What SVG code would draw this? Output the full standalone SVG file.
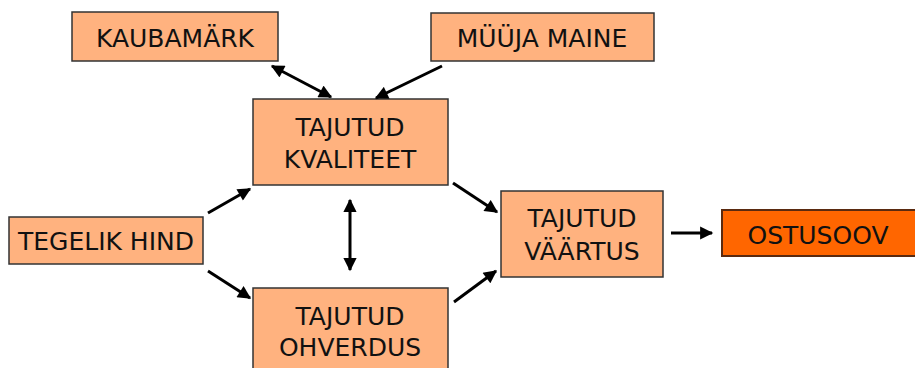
<svg xmlns="http://www.w3.org/2000/svg" width="915" height="368" viewBox="0 0 915 368">
  <defs>
    <style>
      .box { fill: #FFB27F; stroke: #333333; stroke-width: 1.5; }
      .hot { fill: #FF6600; stroke: #5a2a10; stroke-width: 2; }
      .lbl { font-family: "DejaVu Sans", "Open Sans", sans-serif; font-size: 25px; fill: #111111; text-anchor: middle; }
      .con { stroke: #000000; stroke-width: 3; fill: none; }
    </style>
    <marker id="head" viewBox="0 0 10 10" refX="9" refY="5" markerWidth="5" markerHeight="4.4" orient="auto-start-reverse" markerUnits="strokeWidth">
      <path d="M0,0 L10,5 L0,10 z" fill="#000000"/>
    </marker>
  </defs>
  <rect width="915" height="368" fill="#ffffff"/>

  <g id="kaubamark">
    <rect class="box" x="72" y="12" width="206" height="49"/>
    <text class="lbl" x="175" y="47">KAUBAMÄRK</text>
  </g>
  <g id="myyja-maine">
    <rect class="box" x="431" y="13" width="223" height="48"/>
    <text class="lbl" x="542" y="47">MÜÜJA MAINE</text>
  </g>
  <g id="kvaliteet">
    <rect class="box" x="253" y="99" width="195" height="86"/>
    <text class="lbl" x="350" y="136">TAJUTUD</text>
    <text class="lbl" x="350" y="168">KVALITEET</text>
  </g>
  <g id="tegelik-hind">
    <rect class="box" x="9" y="217" width="194" height="47"/>
    <text class="lbl" x="106" y="250">TEGELIK HIND</text>
  </g>
  <g id="ohverdus">
    <rect class="box" x="253" y="288" width="195" height="90"/>
    <text class="lbl" x="350" y="325">TAJUTUD</text>
    <text class="lbl" x="350" y="356">OHVERDUS</text>
  </g>
  <g id="vaartus">
    <rect class="box" x="501" y="191" width="162" height="86"/>
    <text class="lbl" x="582" y="227">TAJUTUD</text>
    <text class="lbl" x="582" y="260">VÄÄRTUS</text>
  </g>
  <g id="ostusoov">
    <rect class="hot" x="722" y="210" width="200" height="46"/>
    <text class="lbl" x="818" y="244">OSTUSOOV</text>
  </g>

  <g id="connectors">
    <line class="con" x1="272" y1="66" x2="331" y2="97" marker-start="url(#head)" marker-end="url(#head)"/>
    <line class="con" x1="442" y1="66" x2="376" y2="98" marker-end="url(#head)"/>
    <line class="con" x1="208" y1="213" x2="250" y2="189" marker-end="url(#head)"/>
    <line class="con" x1="208" y1="271" x2="250" y2="298" marker-end="url(#head)"/>
    <line class="con" x1="350" y1="200" x2="350" y2="270" marker-start="url(#head)" marker-end="url(#head)"/>
    <line class="con" x1="453" y1="183" x2="497" y2="212" marker-end="url(#head)"/>
    <line class="con" x1="454" y1="302" x2="496" y2="271" marker-end="url(#head)"/>
    <line class="con" x1="671" y1="233" x2="712" y2="233" marker-end="url(#head)"/>
  </g>
</svg>
